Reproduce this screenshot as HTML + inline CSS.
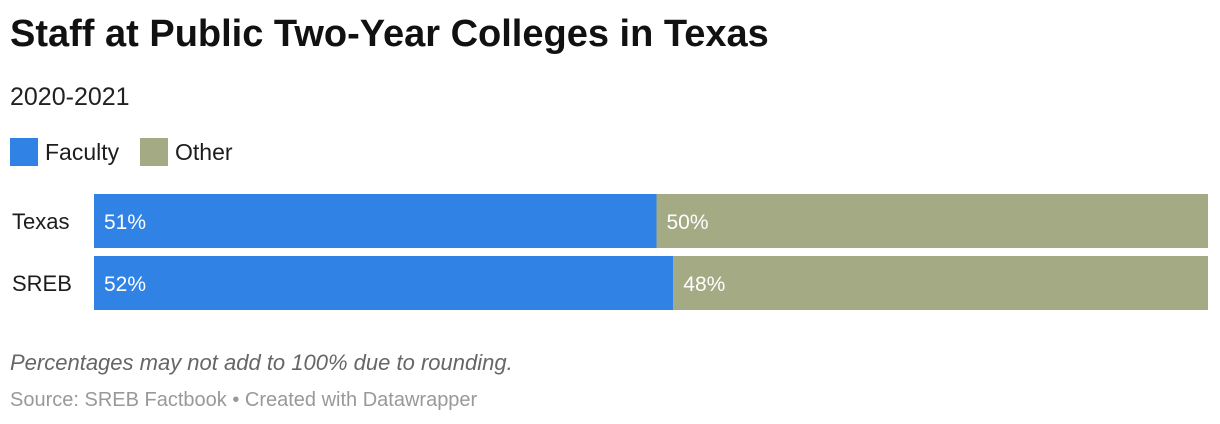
<!DOCTYPE html>
<html><head><meta charset="utf-8"><style>
body{margin:0;width:1220px;height:424px;background:#fff;font-family:"Liberation Sans",sans-serif;position:relative;overflow:hidden;color:#1d1d1d}
.abs{position:absolute;white-space:nowrap}
</style></head><body>
<div class="abs" style="left:10px;top:13px;font-size:38px;font-weight:bold;color:#111">Staff at Public Two-Year Colleges in Texas</div>
<div class="abs" style="left:10px;top:83px;font-size:25px;color:#222">2020-2021</div>
<div class="abs" style="left:10px;top:138px;height:28px;display:flex;align-items:center;font-size:23px">
<span style="display:inline-block;width:28px;height:28px;background:#3082e4;margin-right:7px"></span>Faculty</div>
<div class="abs" style="left:140px;top:138px;height:28px;display:flex;align-items:center;font-size:23px">
<span style="display:inline-block;width:28px;height:28px;background:#a3aa84;margin-right:7px"></span>Other</div>
<svg id="chart" class="abs" style="left:0;top:0" width="1220" height="424"></svg>
<div class="abs" style="left:10px;top:350px;font-size:22px;font-style:italic;color:#666">Percentages may not add to 100% due to rounding.</div>
<div class="abs" style="left:10px;top:389px;font-size:20px;color:#999">Source: SREB Factbook • Created with Datawrapper</div>
<script>
const categories=["Texas","SREB"];
const faculty=[51,52];
const other=[50,48];
const svg=document.getElementById('chart');
const NS='http://www.w3.org/2000/svg';
const x0=94,x1=1208,rowTop=[194,256],barH=54;
function x(v,total){return x0+(x1-x0)*v/total;}
categories.forEach((c,i)=>{
  const total=faculty[i]+other[i];
  const y=rowTop[0]+i*(rowTop[1]-rowTop[0]);
  const lab=document.createElementNS(NS,'text');
  
  
  lab.setAttribute('x',12);lab.setAttribute('y',y+barH/2+8);
  lab.setAttribute('font-size','22');lab.setAttribute('fill','#1d1d1d');
  lab.setAttribute('font-family','Liberation Sans, sans-serif');
  lab.textContent=c;svg.appendChild(lab);
  const segs=[[0,faculty[i],'#3082e4'],[faculty[i],other[i],'#a3aa84']];
  segs.forEach((s,j)=>{
    const r=document.createElementNS(NS,'rect');
    
    
    const xs=x(s[0],total),xe=x(s[0]+s[1],total);
    r.setAttribute('x',xs);r.setAttribute('y',y);r.setAttribute('width',xe-xs);r.setAttribute('height',barH);
    r.setAttribute('fill',s[2]);svg.appendChild(r);
    const t=document.createElementNS(NS,'text');
    
    
    t.setAttribute('x',xs+10);t.setAttribute('y',y+barH/2+8);
    t.setAttribute('font-size','21');t.setAttribute('fill','#fff');
    t.setAttribute('font-family','Liberation Sans, sans-serif');
    t.textContent=s[1]+'%';svg.appendChild(t);
  });
});
</script>
</body></html>
